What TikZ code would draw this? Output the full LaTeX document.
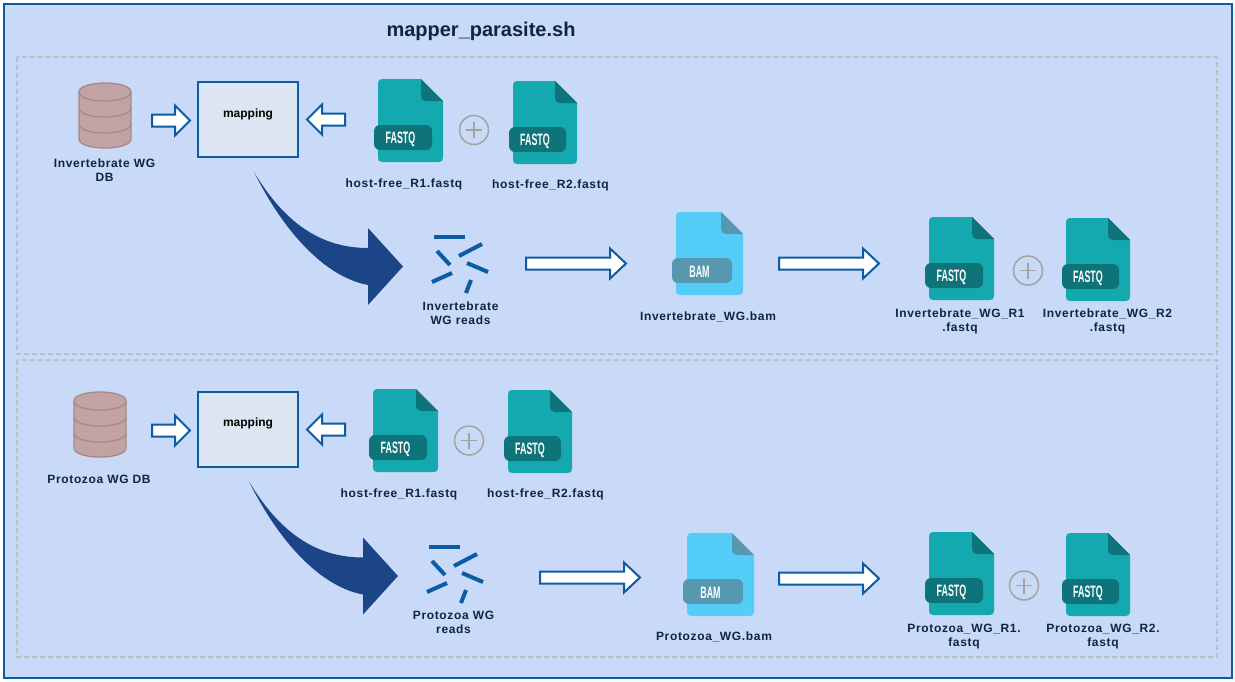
\documentclass[tikz,border=0pt]{standalone}
\usepackage{fontspec}
\setmainfont{Liberation Sans}
\newfontfamily\lblfont[LetterSpace=5.5]{Liberation Sans}
\definecolor{pagebg}{HTML}{C8DAF8}
\definecolor{edgeblue}{HTML}{0B5CA3}
\definecolor{navyarrow}{HTML}{1B4587}
\definecolor{lbl}{HTML}{10253F}
\definecolor{dashgray}{HTML}{BDBFC4}
\definecolor{boxfill}{HTML}{DDE5F3}
\definecolor{dbfill}{HTML}{C2A3A3}
\definecolor{dbline}{HTML}{A88888}
\definecolor{fqbody}{HTML}{14A9AF}
\definecolor{fqdark}{HTML}{0E747A}
\definecolor{bambody}{HTML}{54CDF9}
\definecolor{bamdark}{HTML}{5698B0}
\definecolor{ringgray}{HTML}{A3A39F}
\tikzset{
  lab/.style={font=\lblfont\bfseries\fontsize{12}{14}\selectfont,text=lbl,align=center,inner sep=0pt},
  mapbox/.style={draw=edgeblue,line width=2pt,fill=boxfill,minimum width=100pt,minimum height=75pt,inner sep=0pt},
  maplab/.style={font=\bfseries\fontsize{12}{14}\selectfont,text=black,inner sep=0pt},
  blockarrow/.style={draw=edgeblue,fill=white,line width=2pt,line join=miter},
  bigcurve/.style={fill=navyarrow},
  readbar/.style={draw=edgeblue,line width=4pt},
  plusring/.style={draw=ringgray,line width=1.5pt},
  plusbar/.style={draw=ringgray,line width=1.1pt},
  tagtext/.style={text=white,font=\bfseries\fontsize{16.5}{16.5}\selectfont,inner sep=0pt},
  zone/.style={draw=dashgray,line width=1.6pt,dash pattern=on 5pt off 3pt},
}
% x y width body dark text
\newcommand{\docicon}[6]{%
  \begin{scope}[shift={(#1,#2)}]
    \fill[#4] (4,0) -- (#3-22,0) -- (#3,22) -- (#3,79) .. controls (#3,81.5) and (#3-1.5,83) .. (#3-4,83) -- (4,83) .. controls (1.5,83) and (0,81.5) .. (0,79) -- (0,4) .. controls (0,1.5) and (1.5,0) .. (4,0) -- cycle;
    \fill[#5] (#3-22,0) -- (#3,22) -- (#3-17,22) .. controls (#3-20,22) and (#3-22,20) .. (#3-22,17) -- cycle;
    \fill[#5,rounded corners=6pt] (-4,46) rectangle (#3-11,71);
    \node[tagtext] at (#3/2-10,60) {\scalebox{0.54}[1]{#6}};
  \end{scope}}
\newcommand{\dbicon}[2]{%
  \begin{scope}[shift={(#1,#2)}]
    \draw[dbline,line width=1.3pt,fill=dbfill] (-26,9) .. controls (-26,-3) and (26,-3) .. (26,9) -- (26,56) .. controls (26,68) and (-26,68) .. (-26,56) -- cycle;
    \foreach \yy in {9,25,41} \draw[dbline,line width=1.3pt] (-26,\yy) .. controls (-26,\yy+12) and (26,\yy+12) .. (26,\yy);
  \end{scope}}
\newcommand{\plusicon}[2]{%
  \draw[plusring] (#1,#2) circle[radius=14.5];
  \draw[plusbar] (#1-8,#2) -- (#1+8,#2) (#1,#2-8) -- (#1,#2+8);}
% tail-x tip-x y head-length
\newcommand{\blockr}[4]{\draw[blockarrow] (#1,#3-6) -- (#2-#4,#3-6) -- (#2-#4,#3-15) -- (#2,#3) -- (#2-#4,#3+15) -- (#2-#4,#3+6) -- (#1,#3+6) -- cycle;}
\newcommand{\blockl}[4]{\draw[blockarrow] (#1,#3-6) -- (#2+#4,#3-6) -- (#2+#4,#3-15) -- (#2,#3) -- (#2+#4,#3+15) -- (#2+#4,#3+6) -- (#1,#3+6) -- cycle;}
\newcommand{\bigarrow}[2]{%
  \begin{scope}[shift={(#1,#2)}]
    \fill[bigcurve] (254,172) .. controls (284,222) and (320,248) .. (368,248) -- (368,228) -- (403,266.5) -- (368,305) -- (368,285) .. controls (330,278) and (288,240) .. (254,172) -- cycle;
  \end{scope}}
\newcommand{\readsicon}[2]{%
  \begin{scope}[shift={(#1,#2)}]
    \draw[readbar] (434,237) -- (465,237);
    \draw[readbar] (437,251) -- (450,265);
    \draw[readbar] (459,256) -- (482,244);
    \draw[readbar] (467,263) -- (488,272);
    \draw[readbar] (432,282) -- (452,273);
    \draw[readbar] (466,293) -- (471,280);
  \end{scope}}
\begin{document}
\begin{tikzpicture}[x=1pt,y=-1pt]
\useasboundingbox (0,0) rectangle (1235,681);
\fill[white] (0,0) rectangle (1235,681);
\draw[edgeblue,line width=1.6pt,fill=pagebg] (4,4) rectangle (1232,678);
\draw[zone] (17,57) rectangle (1217,354);
\draw[zone] (17,360) rectangle (1217,657);
\node[font=\bfseries\fontsize{20}{24}\selectfont,text=lbl,inner sep=0pt] (title) at (481,31) {mapper\_parasite.sh};
% upper
\dbicon{105}{83}
\node[lab] (db1) at (104.5,170) {Invertebrate WG\\DB};
\node[mapbox] (map1) at (248,119.5) {};
\node[maplab] (map1t) at (248,114) {mapping};
\blockr{152}{190}{120.5}{15}
\blockl{345}{307}{119.5}{15}
\docicon{378}{79}{65}{fqbody}{fqdark}{FASTQ}
\docicon{513}{81}{64}{fqbody}{fqdark}{FASTQ}
\plusicon{474}{130}
\node[lab] (f1) at (404,184.5) {host-free\_R1.fastq};
\node[lab] (f2) at (550.5,185) {host-free\_R2.fastq};
\bigarrow{0}{0}
\readsicon{0}{0}
\node[lab] (r1) at (460.5,313) {Invertebrate\\WG reads};
\blockr{526}{626}{263.5}{16}
\docicon{676}{212}{67}{bambody}{bamdark}{BAM}
\node[lab] (b1) at (708,317) {Invertebrate\_WG.bam};
\blockr{779}{879}{263.5}{16}
\docicon{929}{217}{65}{fqbody}{fqdark}{FASTQ}
\docicon{1066}{218}{64}{fqbody}{fqdark}{FASTQ}
\plusicon{1028}{270.5}
\node[lab] (o1) at (960,321) {Invertebrate\_WG\_R1\\.fastq};
\node[lab] (o2) at (1107.5,321) {Invertebrate\_WG\_R2\\.fastq};
% lower
\dbicon{100}{392}
\node[lab] (db2) at (99,479) {Protozoa WG DB};
\node[mapbox] (map2) at (248,429.5) {};
\node[maplab] (map2t) at (248,423) {mapping};
\blockr{152}{190}{430.5}{15}
\blockl{345}{307}{429.5}{15}
\docicon{373}{389}{65}{fqbody}{fqdark}{FASTQ}
\docicon{508}{390}{64}{fqbody}{fqdark}{FASTQ}
\plusicon{469}{440.5}
\node[lab] (f3) at (399,494.5) {host-free\_R1.fastq};
\node[lab] (f4) at (545.5,494.5) {host-free\_R2.fastq};
\bigarrow{-5}{309.5}
\readsicon{-5}{310}
\node[lab] (r2) at (453.5,622) {Protozoa WG\\reads};
\blockr{540}{640}{577.5}{16}
\docicon{687}{533}{67}{bambody}{bamdark}{BAM}
\node[lab] (b2) at (714,637) {Protozoa\_WG.bam};
\blockr{779}{879}{578.5}{16}
\docicon{929}{532}{65}{fqbody}{fqdark}{FASTQ}
\docicon{1066}{533}{64}{fqbody}{fqdark}{FASTQ}
\plusicon{1024}{585.5}
\node[lab] (o3) at (964,636.5) {Protozoa\_WG\_R1.\\fastq};
\node[lab] (o4) at (1103,636.5) {Protozoa\_WG\_R2.\\fastq};
\end{tikzpicture}
\end{document}
